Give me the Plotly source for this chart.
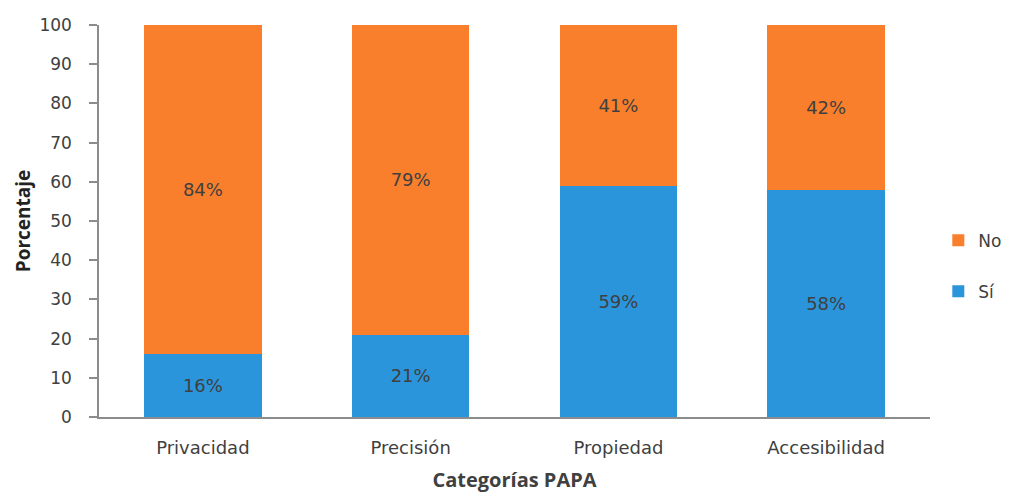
import plotly.graph_objects as go

categories = ["Privacidad", "Precisión", "Propiedad", "Accesibilidad"]
si_values = [16, 21, 59, 58]
no_values = [84, 79, 41, 42]
si_labels = ["16%", "21%", "59%", "58%"]
no_labels = ["84%", "79%", "41%", "42%"]

blue = "#2A95DB"
orange = "#F97F2C"
axis_col = "#8C8C8C"
text_col = "#404040"

fig = go.Figure()
fig.add_trace(go.Bar(
    x=categories, y=si_values, name="Sí", marker=dict(color=blue, line=dict(width=0)),
    text=si_labels, textposition="inside", insidetextanchor="middle",
    textfont=dict(family="DejaVu Sans", size=18, color=text_col),
    legendgroup="si", legendrank=2,
))
fig.add_trace(go.Bar(
    x=categories, y=no_values, name="No", marker=dict(color=orange, line=dict(width=0)),
    text=no_labels, textposition="inside", insidetextanchor="middle",
    textfont=dict(family="DejaVu Sans", size=18, color=text_col),
    legendgroup="no", legendrank=1,
))

fig.update_layout(
    barmode="stack",
    bargap=0.435,
    width=1019, height=500,
    margin=dict(l=99, r=89, t=25, b=83, autoexpand=False),
    plot_bgcolor="white", paper_bgcolor="white",
    uniformtext=dict(mode=False),
    legend=dict(
        x=1.01, y=0.385, xanchor="left", yanchor="middle",
        traceorder="grouped", tracegroupgap=26,
        font=dict(family="DejaVu Sans", size=17, color=text_col),
        itemwidth=30,
    ),
    xaxis=dict(
        showline=True, linecolor=axis_col, linewidth=1.5,
        ticks="outside", ticklen=14, tickcolor="rgba(0,0,0,0)",
        tickfont=dict(family="DejaVu Sans", size=18, color=text_col),
        title=dict(text="<b>Categorías PAPA</b>", font=dict(family="Open Sans", size=20, color=text_col), standoff=16),
    ),
    yaxis=dict(
        range=[0, 100], dtick=10, showgrid=False, zeroline=False,
        showline=True, linecolor=axis_col, linewidth=1.5,
        ticks="outside", ticklen=8, tickcolor=axis_col, tickwidth=1.5,
        ticklabelstandoff=14,
        tickfont=dict(family="DejaVu Sans", size=17, color=text_col),
        title=dict(text="<b>Porcentaje</b>", font=dict(family="Open Sans", size=19, color="#222222"), standoff=4),
    ),
)

fig.write_html("out.html")
